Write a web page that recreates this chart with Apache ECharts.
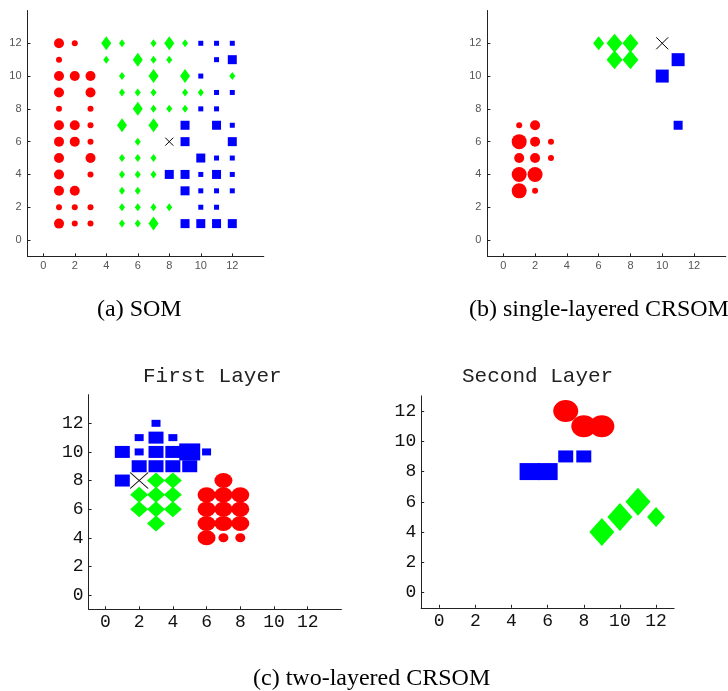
<!DOCTYPE html>
<html>
<head>
<meta charset="utf-8">
<script src="https://cdn.jsdelivr.net/npm/echarts@6/dist/echarts.min.js"></script>
<style>html,body{margin:0;padding:0;background:#fff}#c{width:728px;height:691px}</style>
</head>
<body>
<div id="c"></div>
<script>
// ---- tick labels ----
var tickValues = [0, 2, 4, 6, 8, 10, 12];

// ---- (a) SOM : [x, y, level] level 1 = few hits, 2 = many hits ----
var somRed = [[1,12,2],[1,11,1],[1,10,2],[1,9,2],[1,8,1],[1,7,2],[1,6,2],[1,5,2],[1,4,2],[1,3,2],[1,2,1],[1,1,2],
  [2,12,1],[2,10,2],[2,7,2],[2,6,2],[2,3,2],[2,2,1],[2,1,1],
  [3,10,2],[3,9,2],[3,8,1],[3,7,1],[3,6,1],[3,5,2],[3,4,1],[3,2,1],[3,1,1]];
var somGreen = [[4,12,2],[4,11,1],
  [5,12,1],[5,10,1],[5,9,1],[5,7,2],[5,5,1],[5,4,1],[5,3,1],[5,2,1],[5,1,1],
  [6,11,2],[6,9,1],[6,8,2],[6,6,1],[6,5,1],[6,4,1],[6,3,1],[6,2,1],[6,1,1],
  [7,12,1],[7,11,1],[7,10,2],[7,9,1],[7,8,1],[7,7,2],[7,5,1],[7,4,1],[7,2,1],[7,1,2],
  [8,12,2],[8,11,1],[8,8,1],[8,2,1],
  [9,12,1],[9,10,2],[9,9,1],[9,8,1],
  [10,9,1],[12,10,1]];
var somBlue = [[8,4,2],
  [9,7,2],[9,6,2],[9,4,2],[9,3,2],[9,1,2],
  [10,12,1],[10,10,1],[10,8,1],[10,5,2],[10,4,1],[10,3,1],[10,2,1],[10,1,2],
  [11,12,1],[11,11,1],[11,9,1],[11,8,1],[11,7,2],[11,5,1],[11,4,2],[11,3,1],[11,2,1],[11,1,2],
  [12,12,1],[12,11,2],[12,9,1],[12,7,1],[12,6,2],[12,5,1],[12,4,1],[12,3,1],[12,1,2]];
var somCross = [[8,6]];

// ---- (b) single-layered CRSOM ----
var crRed = [[1,7,1],[2,7,2],[1,6,3],[2,6,2],[3,6,1],[1,5,2],[2,5,2],[3,5,1],[1,4,3],[2,4,3],[1,3,3],[2,3,1]];
var crGreen = [[6,12,2],[7,12,3],[8,12,3],[7,11,3],[8,11,3]];
var crBlue = [[10,10,3],[11,11,3],[11,7,2]];
var crCross = [[10,12]];

// ---- (c) two-layered CRSOM, first layer ----
var l1Red = [[7,8,2],[6,7,2],[7,7,2],[8,7,2],[6,6,2],[7,6,2],[8,6,2],[6,5,2],[7,5,2],[8,5,2],[6,4,2],[7,4,1],[8,4,1]];
var l1Green = [[3,8,2],[4,8,2],[2,7,2],[3,7,2],[4,7,2],[2,6,2],[3,6,2],[4,6,2],[3,5,2]];
var l1Blue = [[3,12,1],[2,11,1],[3,11,2],[4,11,1],[1,10,2],[2,10,1],[3,10,2],[4,10,2],[5,10,3],[6,10,1],
  [2,9,2],[3,9,2],[4,9,2],[5,9,2],[1,8,2]];
var l1Cross = [[2,8]];

// ---- (c) two-layered CRSOM, second layer ----
var l2Red = [[7,12,2],[8,11,2],[9,11,2]];
var l2Blue = [[5,8,2],[6,8,2],[7,9,1],[8,9,1]];
var l2Green = [[9,4,2],[10,5,2],[11,6,2],[12,5,1]];

// ---- styling ----
var RED = '#ff0000', GREEN = '#00ff00', BLUE = '#0000ff';
var CROSS = 'path://M0,0L10,10M10,0L0,10';

function axisPair(idx, min, max, mono) {
  var lab = mono
    ? {color:'#111', fontFamily:'Liberation Mono', fontSize:18, margin:4}
    : {color:'#555', fontFamily:'Liberation Sans', fontSize:11, margin:4};
  return {
    gridIndex: idx, type: 'value', min: min, max: max,
    splitLine: {show:false},
    axisLine: {show:true, onZero:false, lineStyle:{color:'#222', width:1}},
    axisTick: {show:true, inside:true, length:3, customValues: tickValues, lineStyle:{color:'#222'}},
    axisLabel: Object.assign({customValues: tickValues}, lab)
  };
}

var grids = [
  {left:27.5, top:10.5, width:236.3, height:245.9},
  {left:487.4, top:10.5, width:238.4, height:245.9},
  {left:88.6, top:394.7, width:252.8, height:214.6},
  {left:421.2, top:395.9, width:252.9, height:211.9}
];
var xAxes = [axisPair(0,-1,14,false), axisPair(1,-1,14,false), axisPair(2,-1,14,true), axisPair(3,-1,13,true)];
var yAxes = [axisPair(0,-1,14,false), axisPair(1,-1,14,false), axisPair(2,-1,14,true), axisPair(3,-1,13,true)];
yAxes[0].axisLabel.margin = 6; yAxes[1].axisLabel.margin = 6;
yAxes[2].axisLabel.margin = 5; yAxes[3].axisLabel.margin = 5;

function sc(idx, data, symbol, color, sizes) {
  return {
    type: 'scatter', xAxisIndex: idx, yAxisIndex: idx, data: data, symbol: symbol,
    symbolSize: function (v) { return sizes[(v[2] || 1) - 1]; },
    itemStyle: {color: color, opacity: 1},
    emphasis: {disabled: true}, animation: false, silent: true
  };
}
function cross(idx, data, size) {
  return {
    type: 'scatter', xAxisIndex: idx, yAxisIndex: idx, data: data, symbol: CROSS, symbolSize: size,
    itemStyle: {color: 'none', borderColor: '#000', borderWidth: 1, opacity: 1},
    emphasis: {disabled: true}, animation: false, silent: true, z: 5
  };
}

var series = [
  sc(0, somRed, 'circle', RED, [6, 10]),
  sc(0, somGreen, 'diamond', GREEN, [[6,8], [10,14]]),
  sc(0, somBlue, 'rect', BLUE, [5, 9]),
  cross(0, somCross, 8),

  sc(1, crRed, 'circle', RED, [6, 10, 15]),
  sc(1, crGreen, 'diamond', GREEN, [[8,10], [11,14], [16,19]]),
  sc(1, crBlue, 'rect', BLUE, [6, 9, 13]),
  cross(1, crCross, 12),

  sc(2, l1Red, 'circle', RED, [[10,9], [18,15]]),
  sc(2, l1Green, 'diamond', GREEN, [[12,11], [18,16]]),
  sc(2, l1Blue, 'rect', BLUE, [[9,7], [15,12], [21,17]]),
  cross(2, l1Cross, [18,16]),

  sc(3, l2Red, 'circle', RED, [[15,13], [25,22]]),
  sc(3, l2Blue, 'rect', BLUE, [[15,12], [20,17]]),
  sc(3, l2Green, 'diamond', GREEN, [[18,20], [25,28]])
];

var serif = {fontFamily:'Liberation Serif', fontSize:24, fontWeight:'normal', color:'#000'};
var mono = {fontFamily:'Liberation Mono', fontSize:21, fontWeight:'normal', color:'#222'};
var titles = [
  {text:'(a) SOM', left:97, top:298, textStyle:serif, padding:0},
  {text:'(b) single-layered CRSOM', left:469, top:298, textStyle:serif, padding:0},
  {text:'(c) two-layered CRSOM', left:253, top:667, textStyle:serif, padding:0},
  {text:'First Layer', left:143, top:366, textStyle:mono, padding:0},
  {text:'Second Layer', left:462, top:366, textStyle:mono, padding:0}
];

var chart = echarts.init(document.getElementById('c'), null, {renderer:'canvas'});
chart.setOption({
  backgroundColor: '#fff',
  animation: false,
  title: titles,
  grid: grids,
  xAxis: xAxes,
  yAxis: yAxes,
  series: series
});
</script>
</body>
</html>
